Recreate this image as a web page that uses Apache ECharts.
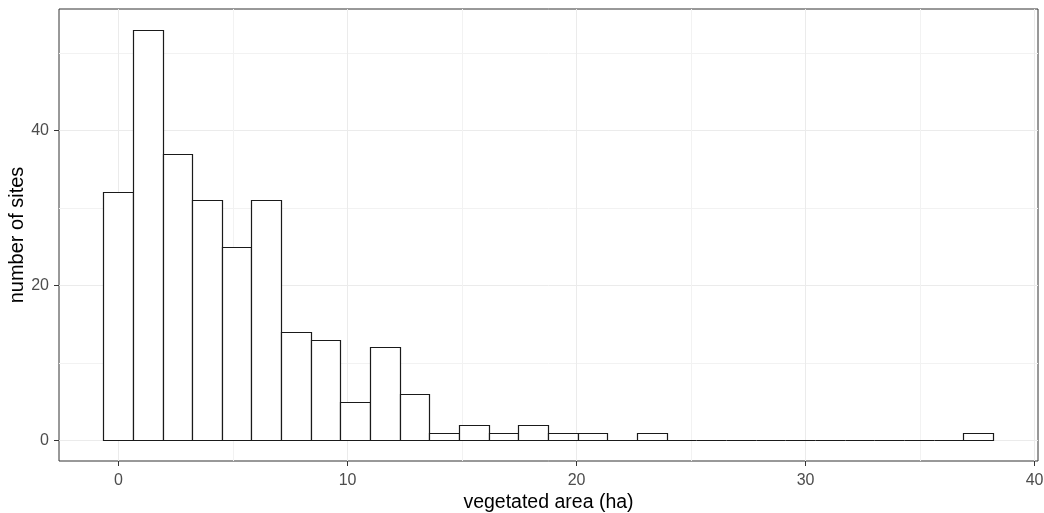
<!DOCTYPE html>
<html>
<head>
<meta charset="utf-8">
<script src="https://cdn.jsdelivr.net/npm/echarts@6/dist/echarts.min.js"></script>
<style>html,body{margin:0;padding:0;background:#fff;}#chart{width:1044px;height:513px;}</style>
</head>
<body>
<div id="chart"></div>
<script>
// Histogram bins (30 bins, ggplot default)
const binStart = -0.67;
const binWidth = 1.295;
const counts = [32, 53, 37, 31, 25, 31, 14, 13, 5, 12, 6, 1, 2, 1, 2, 1, 1, 0, 1, 0, 0, 0, 0, 0, 0, 0, 0, 0, 0, 1];
const xMajorTicks = [0, 10, 20, 30, 40];
const xMinorTicks = [5, 15, 25, 35];
const yMajorTicks = [0, 20, 40];
const yMinorTicks = [10, 30, 50];
const xTitle = 'vegetated area (ha)';
const yTitle = 'number of sites';

const histData = counts.map((c, i) => [binStart + i * binWidth, binStart + (i + 1) * binWidth, c]);

const FONT = '"Liberation Sans", Arial, sans-serif';
const chart = echarts.init(document.getElementById('chart'));
chart.setOption({
  animation: false,
  backgroundColor: '#ffffff',
  grid: {left: 59, right: 6, top: 9, bottom: 52, show: true, borderColor: '#333333', borderWidth: 1, backgroundColor: 'transparent', containLabel: false, outerBoundsMode: 'none'},
  xAxis: [{
    type: 'value', min: -2.6, max: 40.15, position: 'bottom',
    axisLine: {show: false, onZero: false},
    axisTick: {show: true, length: 5, lineStyle: {color: '#333333', width: 1}, customValues: xMajorTicks},
    axisLabel: {color: '#4d4d4d', fontSize: 16, fontFamily: FONT, margin: 12, customValues: xMajorTicks},
    splitLine: {show: true, lineStyle: {color: '#ebebeb', width: 1}},
    name: xTitle, nameLocation: 'middle', nameGap: 32, nameMoveOverlap: false,
    nameTextStyle: {color: '#000000', fontSize: 19.5, fontFamily: FONT}
  }, {
    type: 'value', min: -2.6, max: 40.15, position: 'top',
    axisLine: {show: false, onZero: false},
    axisTick: {show: false, customValues: xMinorTicks},
    axisLabel: {show: false, customValues: xMinorTicks},
    splitLine: {show: true, lineStyle: {color: '#f2f2f2', width: 1}}
  }],
  yAxis: [{
    type: 'value', min: -2.65, max: 55.65, position: 'left',
    axisLine: {show: false, onZero: false},
    axisTick: {show: true, length: 5, lineStyle: {color: '#333333', width: 1}, customValues: yMajorTicks},
    axisLabel: {color: '#4d4d4d', fontSize: 16, fontFamily: FONT, margin: 10, customValues: yMajorTicks},
    splitLine: {show: true, lineStyle: {color: '#ebebeb', width: 1}},
    name: yTitle, nameLocation: 'middle', nameGap: 32, nameMoveOverlap: false,
    nameTextStyle: {color: '#000000', fontSize: 20, fontFamily: FONT}
  }, {
    type: 'value', min: -2.65, max: 55.65, position: 'right',
    axisLine: {show: false, onZero: false},
    axisTick: {show: false, customValues: yMinorTicks},
    axisLabel: {show: false, customValues: yMinorTicks},
    splitLine: {show: true, lineStyle: {color: '#f2f2f2', width: 1}}
  }],
  series: [{
    type: 'custom',
    xAxisIndex: 0, yAxisIndex: 0,
    data: histData,
    encode: {x: [0, 1], y: 2},
    clip: true,
    renderItem: function (params, api) {
      const p0 = api.coord([api.value(0), api.value(2)]);
      const p1 = api.coord([api.value(1), 0]);
      const x0 = Math.round(p0[0]) + 0.5, x1 = Math.round(p1[0]) + 0.5;
      const y0 = Math.round(p0[1]) + 0.5, y1 = Math.round(p1[1]) + 0.5;
      return {
        type: 'rect',
        shape: {x: x0, y: y0, width: x1 - x0, height: y1 - y0},
        style: {fill: '#ffffff', stroke: '#1a1a1a', lineWidth: 1.2}
      };
    }
  }]
});
</script>
</body>
</html>
